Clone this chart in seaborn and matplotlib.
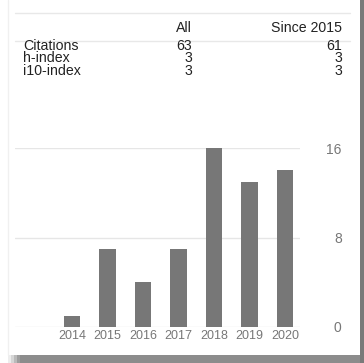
import matplotlib
matplotlib.use("Agg")
import matplotlib.pyplot as plt
from matplotlib.lines import Line2D
from matplotlib.patches import Rectangle
import seaborn as sns

# --- Data ---
years = ["2014", "2015", "2016", "2017", "2018", "2019", "2020"]
citations = [1, 7, 4, 7, 16, 13, 14]
y_ticks = [0, 8, 16]

header = ["All", "Since 2015"]
row_names = ["Citations", "h-index", "i10-index"]
all_vals = ["63", "3", "3"]
since_vals = ["61", "3", "3"]

W, H = 364, 363
sns.set_style("white")
plt.rcParams["font.family"] = ["Liberation Sans", "DejaVu Sans"]

fig = plt.figure(figsize=(W / 100, H / 100), dpi=100)
fig.patch.set_facecolor("white")


def fx(px):
    return px / W


def fy(py):
    return 1 - py / H


# --- card shadow ---
fig.add_artist(Rectangle((fx(20), 0), 1, 8 / H, transform=fig.transFigure,
                         facecolor="#8c8c8c", edgecolor="none", zorder=0))
for i, a in enumerate([0.15, 0.35, 0.6, 0.85]):
    fig.add_artist(Rectangle((fx(8 + i * 3), 0), 3 / W, 8 / H, transform=fig.transFigure,
                             facecolor="#8c8c8c", alpha=a, edgecolor="none", zorder=0))
fig.add_artist(Rectangle((fx(360), 0), 4 / W, 1, transform=fig.transFigure,
                         facecolor="#7a7a7a", edgecolor="none", zorder=0))
fig.add_artist(Line2D([fx(8), fx(8)], [fy(355), fy(0)], color="#f0f0f0", lw=1))

# --- stats table ---
fig.add_artist(Line2D([fx(15), fx(350)], [fy(13), fy(13)], color="#e8e8e8", lw=1))
fig.add_artist(Line2D([fx(15), fx(350)], [fy(41), fy(41)], color="#e8e8e8", lw=1))
fs = 10.2
txt = dict(va="center", fontsize=fs, color="#222222", linespacing=0.87)
fig.text(fx(192), fy(28), header[0], ha="right", **txt)
fig.text(fx(342), fy(28), header[1], ha="right", **txt)
fig.text(fx(23), fy(58.5), "\n".join(row_names), ha="left", **txt)
fig.text(fx(192), fy(58.5), "\n".join(all_vals), ha="right", **txt)
fig.text(fx(342), fy(58.5), "\n".join(since_vals), ha="right", **txt)

# --- bar chart ---
ax = fig.add_axes([fx(15), 1 - 327 / H, (300 - 15) / W, (327 - 148) / H])
ax.set_facecolor("none")
for v in y_ticks:
    ax.axhline(v, color="#e6e6e6", lw=1, zorder=0)
sns.barplot(x=years, y=citations, color="#777777", saturation=1, width=0.47,
            ax=ax, zorder=2, edgecolor="none")
ax.set_xlim(-1.6, 6.42)
ax.set_ylim(0, 16)
ax.set_yticks(y_ticks)
ax.set_xlabel("")
ax.set_ylabel("")
sns.despine(ax=ax, left=True, bottom=True)
ax.tick_params(axis="x", length=0, pad=2, labelsize=9, colors="#777777")
ax.tick_params(axis="y", length=0, left=False, right=False, labelleft=False,
               labelright=True, pad=30, labelsize=10, colors="#777777")
for lab in ax.get_yticklabels():
    lab.set_horizontalalignment("right")

fig.savefig("out.png", dpi=100)
